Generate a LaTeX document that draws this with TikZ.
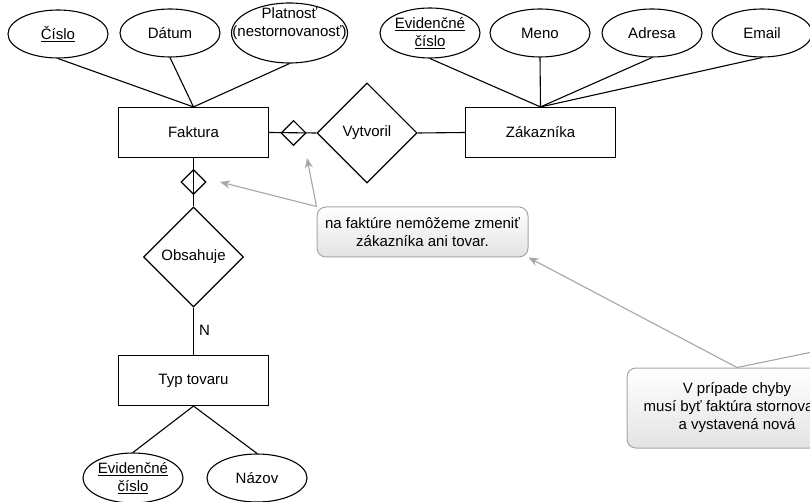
\documentclass[tikz,border=0pt]{standalone}
\usepackage{fontspec}
\setmainfont{Liberation Sans}
\usetikzlibrary{shapes.geometric,arrows.meta}

\tikzset{
  er/.style={draw=black, line width=1.1pt},
  attr/.style={er, ellipse, minimum width=100, minimum height=48, inner sep=0pt, align=center},
  entity/.style={er, rectangle, minimum width=150, minimum height=50, inner sep=0pt},
  rel/.style={er, diamond, minimum width=100, minimum height=100, inner sep=0pt},
  markbox/.style={er, diamond, minimum width=25, minimum height=25, inner sep=0pt},
  note/.style={rectangle, rounded corners=9pt, draw=black!35, line width=1pt,
    top color=white, bottom color=black!11, align=center, inner sep=0pt},
  callarrow/.style={draw=black!35, line width=1.1pt,
    -{Stealth[length=10pt,width=8pt,inset=3pt]}},
}

\begin{document}
\begin{tikzpicture}[x=1pt, y=-1pt, font=\fontsize{15}{18}\selectfont]
  \useasboundingbox (0,0) rectangle (810,502);

  % entities
  \node[entity] (faktura) at (193.5,132.5) {Faktura};
  \node[entity] (zak) at (540.5,132.5) {Zákazníka};
  \node[entity] (typ) at (193.5,380.5) {Typ tovaru};

  % relationships
  \node[rel] (vytvoril) at (367,133) {Vytvoril};
  \node[rel] (obsahuje) at (193.5,257) {Obsahuje};

  % attributes of Faktura
  \node[attr] (cislo) at (58,34) {\underline{Číslo}};
  \node[attr] (datum) at (170,33) {Dátum};
  \node[attr, minimum width=116, minimum height=60] (plat) at (289.5,33) {};
  \node[align=center, inner sep=0pt] (plattext) at (289.5,24) {Platnosť\\(nestornovanosť)};

  % attributes of Zákazníka
  \node[attr, minimum height=50] (evid1) at (430,33) {\underline{Evidenčné}\\\underline{číslo}};
  \node[attr] (meno) at (540,33) {Meno};
  \node[attr] (adresa) at (652,33) {Adresa};
  \node[attr] (email) at (762,33) {Email};

  % attributes of Typ tovaru
  \node[attr, minimum height=50] (evid2) at (133,478) {\underline{Evidenčné}\\\underline{číslo}};
  \node[attr] (nazov) at (257,478) {Názov};

  % attribute links
  \foreach \a in {cislo, datum, plat}
    \draw[er] (\a.south) -- (faktura.north);
  \foreach \a in {evid1, meno, adresa, email}
    \draw[er] (\a.south) -- (zak.north);
  \draw[er] (typ.south) -- (evid2.north);
  \draw[er] (typ.south) -- (nazov.north);

  % relationship links
  \draw[er] (faktura.east) -- (vytvoril.west);
  \draw[er] (vytvoril.east) -- (zak.west);
  \draw[er] (faktura.south) -- (obsahuje.north);
  \draw[er] (obsahuje.south) -- (typ.north);
  \node[anchor=west, inner sep=0pt] (card) at (199,330) {N};

  % immutability markers on the links
  \node[markbox] (mk1) at (293.5,133) {};
  \node[markbox] (mk2) at (193.5,182) {};

  % notes
  \node[note, minimum width=211, minimum height=50] (note1) at (422.5,232)
    {na faktúre nemôžeme zmeniť\\zákazníka ani tovar.};
  \node[note, minimum width=220, minimum height=80] (note2) at (737,408)
    {V prípade chyby\\musí byť faktúra stornovaná\\a vystavená nová};

  \coordinate (tip1) at (220,182);
  \coordinate (tip2) at (307,158);
  \coordinate (tip3) at (900,334);

  \draw[callarrow] (note1.north west) -- (tip1);
  \draw[callarrow] (note1.north west) -- (tip2);
  \draw[callarrow] (note2.north) -- (note1.south east);
  \draw[callarrow] (note2.north) -- (tip3);
\end{tikzpicture}
\end{document}
